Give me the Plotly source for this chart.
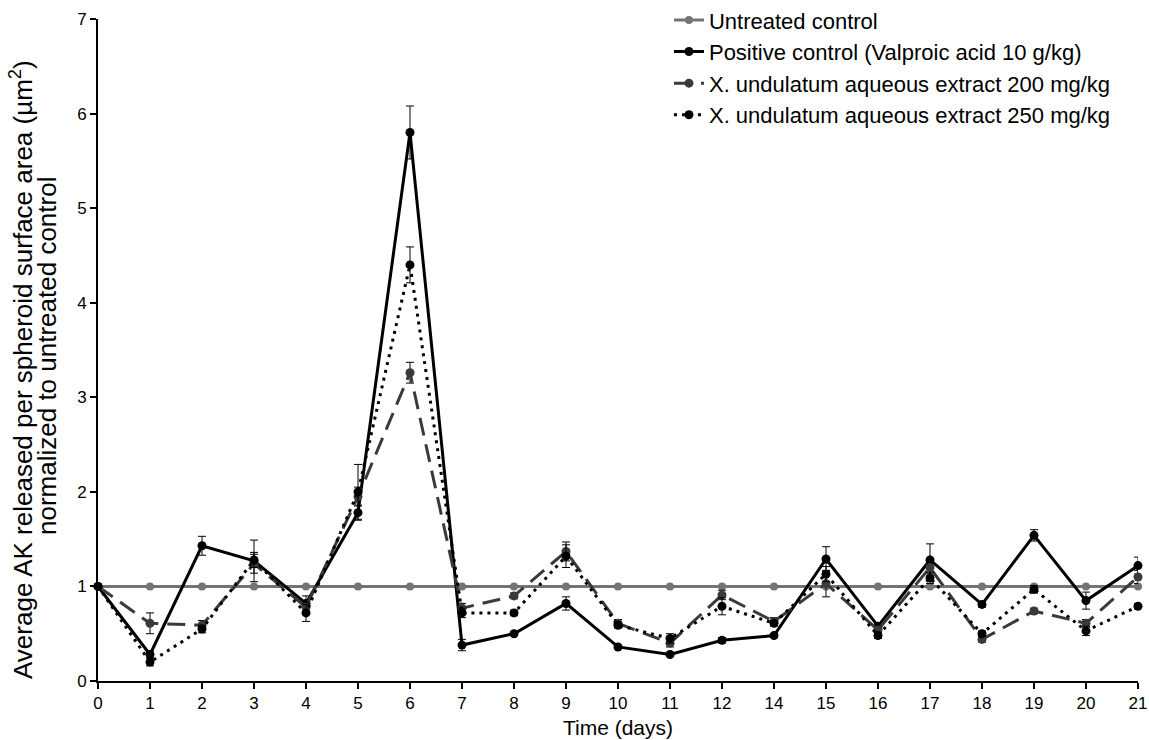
import plotly.graph_objects as go

days = ["0", "1", "2", "3", "4", "5", "6", "7", "8", "9", "10", "11", "12", "14",
        "15", "16", "17", "18", "19", "20", "21"]

untreated = [1.0] * 21
positive = [1.0, 0.28, 1.43, 1.27, 0.82, 1.78, 5.80, 0.38, 0.50, 0.82, 0.36, 0.28, 0.43, 0.48,
            1.29, 0.58, 1.28, 0.81, 1.54, 0.85, 1.22]
positive_err = [0.0, 0.04, 0.10, 0.22, 0.08, 0.08, 0.28, 0.06, 0.02, 0.07, 0.02, 0.02, 0.03, 0.02,
                0.13, 0.03, 0.17, 0.03, 0.06, 0.09, 0.09]
ext200 = [1.0, 0.61, 0.59, 1.24, 0.78, 1.95, 3.26, 0.77, 0.90, 1.37, 0.61, 0.40, 0.91, 0.63,
          1.03, 0.54, 1.20, 0.44, 0.74, 0.61, 1.10]
ext200_err = [0.0, 0.11, 0.05, 0.10, 0.05, 0.10, 0.11, 0.05, 0.03, 0.10, 0.04, 0.04, 0.05, 0.04,
              0.14, 0.04, 0.06, 0.03, 0.03, 0.04, 0.07]
ext250 = [1.0, 0.20, 0.55, 1.28, 0.72, 2.00, 4.40, 0.72, 0.72, 1.32, 0.59, 0.45, 0.79, 0.61,
          1.13, 0.48, 1.09, 0.50, 0.97, 0.53, 0.79]
ext250_err = [0.0, 0.04, 0.04, 0.08, 0.09, 0.29, 0.19, 0.05, 0.03, 0.12, 0.03, 0.05, 0.09, 0.03,
              0.08, 0.03, 0.06, 0.03, 0.04, 0.05, 0.03]

y_title_1 = "Average AK released per spheroid surface area (µm<sup>2</sup>)"
y_title_2 = "normalized to untreated control"
x_title = "Time (days)"

x_idx = list(range(len(days)))

fig = go.Figure()

def err(vals):
    return dict(type="data", array=vals, visible=True, color="black", thickness=1, width=4)

fig.add_trace(go.Scatter(
    x=x_idx, y=untreated, name="Untreated control", mode="lines+markers",
    line=dict(color="#747474", width=3), marker=dict(color="#747474", size=8),
    cliponaxis=False))
fig.add_trace(go.Scatter(
    x=x_idx, y=positive, name="Positive control (Valproic acid 10 g/kg)", mode="lines+markers",
    line=dict(color="black", width=3), marker=dict(color="black", size=9),
    error_y=err(positive_err), cliponaxis=False))
fig.add_trace(go.Scatter(
    x=x_idx, y=ext200, name="X. undulatum aqueous extract 200 mg/kg", mode="lines+markers",
    line=dict(color="#3a3a3a", width=3, dash="18px,9px"), marker=dict(color="#3a3a3a", size=9),
    error_y=err(ext200_err), cliponaxis=False))
fig.add_trace(go.Scatter(
    x=x_idx, y=ext250, name="X. undulatum aqueous extract 250 mg/kg", mode="lines+markers",
    line=dict(color="black", width=3, dash="3px,5px"), marker=dict(color="black", size=9),
    error_y=err(ext250_err), cliponaxis=False))

font_family = "Liberation Sans, Arial, sans-serif"

fig.update_layout(
    width=1149, height=740,
    margin=dict(l=98, r=11, t=19, b=59, autoexpand=False),
    plot_bgcolor="white", paper_bgcolor="white",
    font=dict(family=font_family, size=18, color="black"),
    showlegend=True,
    legend=dict(x=0.549, y=1.03, xanchor="left", yanchor="top",
                bgcolor="rgba(0,0,0,0)", font=dict(size=22), itemwidth=30,
                tracegroupgap=0),
    xaxis=dict(
        range=[0, len(days) - 1], tickmode="array", tickvals=x_idx, ticktext=days,
        showgrid=False, zeroline=False, showline=True, linecolor="black", linewidth=2,
        ticks="outside", ticklen=6, tickwidth=2, tickcolor="black", automargin=False,
        tickfont=dict(size=17),
        title=dict(text=x_title, font=dict(size=21), standoff=8)),
    yaxis=dict(
        range=[0, 7], tickmode="array", tickvals=[0, 1, 2, 3, 4, 5, 6, 7],
        showgrid=False, zeroline=False, showline=True, linecolor="black", linewidth=2,
        ticks="outside", ticklen=6, tickwidth=2, tickcolor="black", automargin=False,
        tickfont=dict(size=17)),
    annotations=[
        dict(text=y_title_1, textangle=-90, xref="paper", yref="paper",
             x=0, y=0.5, xanchor="center", yanchor="middle", xshift=-77, yshift=-20,
             showarrow=False, font=dict(size=26)),
        dict(text=y_title_2, textangle=-90, xref="paper", yref="paper",
             x=0, y=0.5, xanchor="center", yanchor="middle", xshift=-51, yshift=-6,
             showarrow=False, font=dict(size=26)),
    ],
)

fig.write_html("out.html", config={"displayModeBar": False},
               post_script="document.body.style.margin='0';document.body.style.overflow='hidden';")
